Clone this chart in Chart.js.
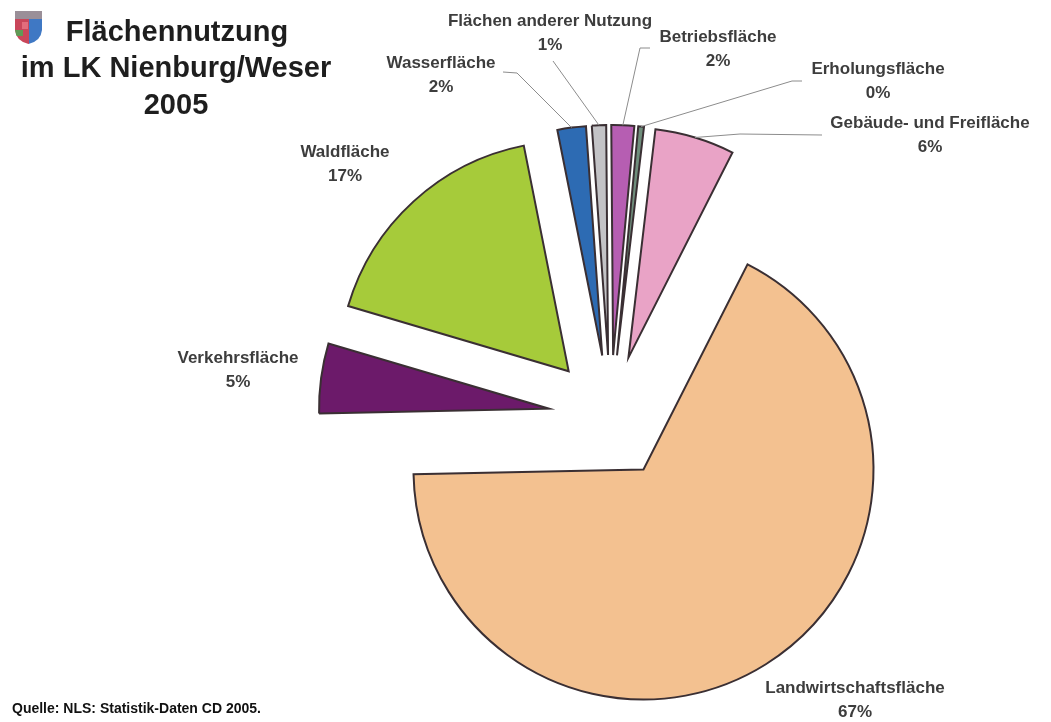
<!DOCTYPE html>
<html>
<head>
<meta charset="utf-8">
<title>Flächennutzung im LK Nienburg/Weser 2005</title>
<style>
  html, body { margin: 0; padding: 0; background: #ffffff; }
  #wrap { width: 1051px; height: 722px; position: relative; }
</style>
<script src="https://cdn.jsdelivr.net/npm/chart.js@4/dist/chart.umd.min.js"></script>
</head>
<body>
<div id="wrap"><canvas id="chart" width="1051" height="722"></canvas></div>
<script>
// Land use categories, drawn clockwise starting with agriculture
const categories = [
  'Landwirtschaftsfläche',
  'Verkehrsfläche',
  'Waldfläche',
  'Wasserfläche',
  'Flächen anderer Nutzung',
  'Betriebsfläche',
  'Erholungsfläche',
  'Gebäude- und Freifläche'
];
// Share of total area in percent
const shares = [67.2, 4.9, 17.3, 2.0, 1.0, 1.6, 0.4, 5.6];

const sliceColors = ['#F3C190', '#6C1A6A', '#A6CB3A', '#2D6BB3', '#C3C3C6', '#B65EB2', '#6F8E7C', '#E9A3C6'];

const titleLines = ['Flächennutzung', 'im LK Nienburg/Weser', '2005'];
const sourceText = 'Quelle: NLS: Statistik-Daten CD 2005.';

// Distance each slice is pulled out from the centre
const EXPLODE = 62;

// Label placement: text centre, and optional leader line points (from label towards slice)
const labelLayout = [
  { x: 855, y: 688 },
  { x: 238, y: 358 },
  { x: 345, y: 152 },
  { x: 441, y: 63,  line: [[503, 72], [517, 73]] },
  { x: 550, y: 21,  line: [[553, 61]] },
  { x: 718, y: 37,  line: [[650, 48], [640, 48]] },
  { x: 878, y: 69,  line: [[802, 81], [792, 81]] },
  { x: 930, y: 123, line: [[822, 135], [740, 134]] }
];

// Draw each arc shifted outwards along its mid angle
const explodePlugin = {
  id: 'explode',
  beforeDatasetDraw(chart, args) {
    const ctx = chart.ctx;
    args.meta.data.forEach((arc) => {
      const mid = (arc.startAngle + arc.endAngle) / 2;
      ctx.save();
      ctx.translate(Math.cos(mid) * EXPLODE, Math.sin(mid) * EXPLODE);
      arc.draw(ctx);
      ctx.restore();
    });
    return false;
  }
};

function drawShield(ctx) {
  ctx.save();
  ctx.beginPath();
  ctx.moveTo(15, 11);
  ctx.lineTo(42, 11);
  ctx.lineTo(42, 30);
  ctx.quadraticCurveTo(41, 41, 28.5, 44);
  ctx.quadraticCurveTo(16, 41, 15, 30);
  ctx.closePath();
  ctx.clip();
  ctx.fillStyle = '#9a8f98';
  ctx.fillRect(15, 11, 27, 8);
  ctx.fillStyle = '#c9465a';
  ctx.fillRect(15, 19, 14, 26);
  ctx.fillStyle = '#3f78c4';
  ctx.fillRect(29, 19, 13, 26);
  ctx.fillStyle = '#5f9a55';
  ctx.fillRect(15, 30, 8, 6);
  ctx.fillStyle = '#e36c7c';
  ctx.fillRect(22, 22, 6, 7);
  ctx.restore();
}

const annotatePlugin = {
  id: 'annotate',
  afterDraw(chart) {
    const ctx = chart.ctx;
    const meta = chart.getDatasetMeta(0);
    const total = shares.reduce((a, b) => a + b, 0);

    ctx.save();
    // leader lines
    ctx.strokeStyle = '#8c8c8c';
    ctx.lineWidth = 1;
    meta.data.forEach((arc, i) => {
      const lay = labelLayout[i];
      if (!lay.line) return;
      const mid = (arc.startAngle + arc.endAngle) / 2;
      const r = arc.outerRadius + EXPLODE;
      const ax = arc.x + Math.cos(mid) * r;
      const ay = arc.y + Math.sin(mid) * r;
      ctx.beginPath();
      ctx.moveTo(lay.line[0][0], lay.line[0][1]);
      for (let k = 1; k < lay.line.length; k++) ctx.lineTo(lay.line[k][0], lay.line[k][1]);
      ctx.lineTo(ax, ay);
      ctx.stroke();
    });

    // slice labels
    ctx.fillStyle = '#3d3d3d';
    ctx.textAlign = 'center';
    ctx.textBaseline = 'middle';
    ctx.font = 'bold 17px "Liberation Sans", Arial, sans-serif';
    categories.forEach((name, i) => {
      const lay = labelLayout[i];
      const pct = Math.round(shares[i] / total * 100);
      ctx.fillText(name, lay.x, lay.y);
      ctx.fillText(pct + '%', lay.x, lay.y + 24);
    });

    // title
    ctx.fillStyle = '#1e1e1e';
    ctx.font = 'bold 29px "Liberation Sans", Arial, sans-serif';
    ctx.fillText(titleLines[0], 177, 33);
    ctx.fillText(titleLines[1], 176, 69);
    ctx.fillText(titleLines[2], 176, 106);

    // source note
    ctx.textAlign = 'left';
    ctx.font = 'bold 14px "Liberation Sans", Arial, sans-serif';
    ctx.fillStyle = '#111111';
    ctx.fillText(sourceText, 12, 709);

    drawShield(ctx);
    ctx.restore();
  }
};

new Chart(document.getElementById('chart'), {
  type: 'pie',
  data: {
    labels: categories,
    datasets: [{
      data: shares,
      backgroundColor: sliceColors,
      borderColor: '#3a2f33',
      borderWidth: 2,
      borderJoinStyle: 'miter',
      radius: 230
    }]
  },
  options: {
    responsive: false,
    animation: false,
    rotation: 26.9,
    layout: { padding: { top: 117, bottom: 5, left: 307, right: 137 } },
    plugins: {
      legend: { display: false },
      tooltip: { enabled: false }
    }
  },
  plugins: [explodePlugin, annotatePlugin]
});
</script>
</body>
</html>
